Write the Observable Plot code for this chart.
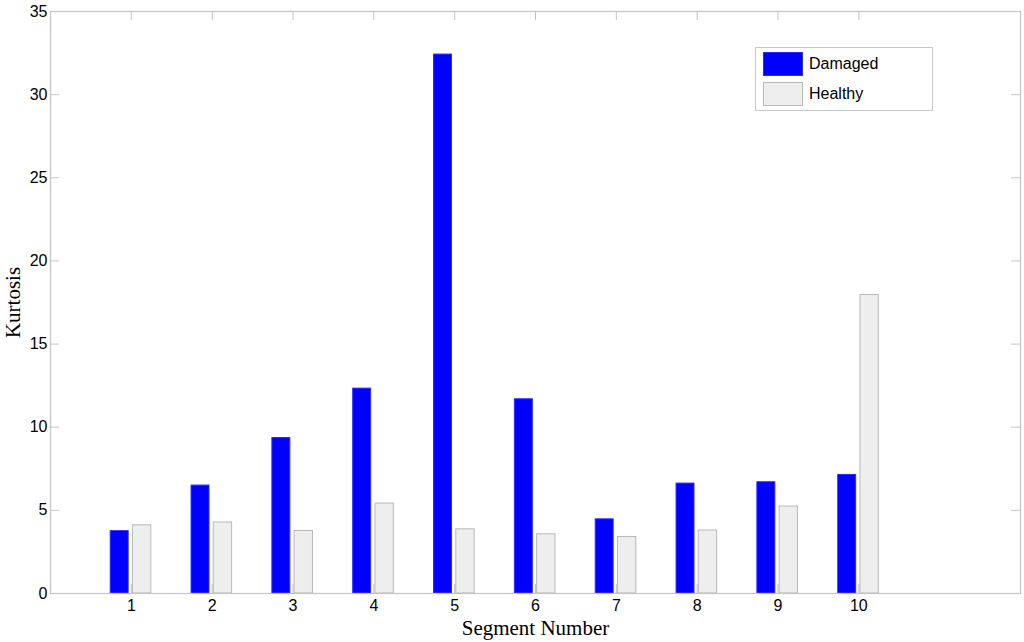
<!DOCTYPE html>
<html>
<head>
<meta charset="utf-8">
<script src="https://cdn.jsdelivr.net/npm/d3@7"></script>
<script src="https://cdn.jsdelivr.net/npm/@observablehq/plot@0.6"></script>
<style>
  html, body { margin: 0; padding: 0; background: #fff; }
  #wrap { position: relative; width: 1024px; height: 642px; }
  #legend {
    position: absolute; left: 755px; top: 47px; width: 178px; height: 64px;
    border: 1px solid #c8c8c8; background: #fff; box-sizing: border-box;
    font-family: "Liberation Sans", Arial, sans-serif; font-size: 16px; color: #000;
  }
  .item { position: absolute; left: 7px; height: 24px; display: flex; align-items: center; }
  .sw { width: 40px; height: 24px; box-sizing: border-box; margin-right: 6px; }
</style>
</head>
<body>
<div id="wrap"></div>
<script>
const segments = [1, 2, 3, 4, 5, 6, 7, 8, 9, 10];
const damaged = [3.75, 6.49, 9.35, 12.32, 32.41, 11.68, 4.46, 6.61, 6.69, 7.13];
const healthy = [4.10, 4.27, 3.76, 5.41, 3.86, 3.56, 3.40, 3.79, 5.23, 17.95];
const seriesNames = ["Damaged", "Healthy"];
const seriesFill = ["#0000ff", "#eeeeee"];
const seriesStroke = ["#2a2aff", "#b8b8b8"];
const yTicks = [0, 5, 10, 15, 20, 25, 30, 35];

const W = 1024, H = 642;
const mL = 50, mR = 4, mT = 11, mB = 49;
const plotW = W - mL - mR, plotH = H - mT - mB;
const tickLen = 9;
const axisColor = "#c4c4c4";
const serif = "'Liberation Serif', 'Times New Roman', serif";

const rows = [];
segments.forEach((s, i) => {
  rows.push({seg: s, series: seriesNames[0], value: damaged[i], lo: s - 0.255, hi: s - 0.033});
  rows.push({seg: s, series: seriesNames[1], value: healthy[i], lo: s + 0.02, hi: s + 0.247});
});

const chart = Plot.plot({
  width: W, height: H,
  marginLeft: mL, marginRight: mR, marginTop: mT, marginBottom: mB,
  style: {fontFamily: "'Liberation Sans', Arial, sans-serif", fontSize: "16px", color: "#000", background: "#fff"},
  x: {domain: [0, 12]},
  y: {domain: [0, 35]},
  color: {domain: seriesNames, range: seriesFill},
  marks: [
    Plot.tickX(segments, {x: d => d, stroke: axisColor, insetTop: plotH - tickLen}),
    Plot.tickX(segments, {x: d => d, stroke: axisColor, insetBottom: plotH - tickLen}),
    Plot.tickY(yTicks, {y: d => d, stroke: axisColor, insetRight: plotW - tickLen}),
    Plot.tickY(yTicks, {y: d => d, stroke: axisColor, insetLeft: plotW - tickLen}),
    Plot.rectY(rows, {
      x1: "lo", x2: "hi", y1: 0, y2: "value",
      fill: d => seriesFill[seriesNames.indexOf(d.series)],
      stroke: d => seriesStroke[seriesNames.indexOf(d.series)],
      strokeWidth: 1
    }),
    Plot.frame({stroke: axisColor, strokeWidth: 1.2}),
    Plot.axisY(yTicks, {tickSize: 0, tickPadding: 3, label: null, fontSize: 16}),
    Plot.axisX(segments, {tickSize: 0, tickPadding: 6, label: null, fontSize: 16, tickFormat: d => String(d)}),
    Plot.text(["Kurtosis"], {frameAnchor: "left", textAnchor: "middle", lineAnchor: "middle", rotate: -90, dx: -37, fontFamily: serif, fontSize: 21, fill: "#000"}),
    Plot.text(["Segment Number"], {frameAnchor: "bottom", textAnchor: "middle", lineAnchor: "middle", dy: 35, fontFamily: serif, fontSize: 21, fill: "#000"})
  ]
});

const wrap = document.getElementById("wrap");
wrap.appendChild(chart);

const legend = document.createElement("div");
legend.id = "legend";
seriesNames.forEach((name, i) => {
  const item = document.createElement("div");
  item.className = "item";
  item.style.top = (4 + i * 30) + "px";
  const sw = document.createElement("div");
  sw.className = "sw";
  sw.style.background = seriesFill[i];
  sw.style.border = "1px solid " + seriesStroke[i];
  const label = document.createElement("span");
  label.textContent = name;
  item.appendChild(sw);
  item.appendChild(label);
  legend.appendChild(item);
});
wrap.appendChild(legend);
</script>
</body>
</html>
